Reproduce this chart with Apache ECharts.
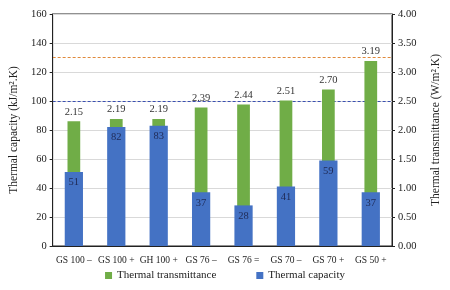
<!DOCTYPE html>
<html>
<head>
<meta charset="utf-8">
<script src="https://cdn.jsdelivr.net/npm/echarts@6/dist/echarts.min.js"></script>
<style>
  html, body { margin: 0; padding: 0; background: #fff; }
  #chart { width: 450px; height: 290px; }
</style>
</head>
<body>
<div id="chart"></div>
<script>
const categories = ['GS 100 \u2013', 'GS 100 +', 'GH 100 +', 'GS 76 \u2013', 'GS 76 =', 'GS 70 \u2013', 'GS 70 +', 'GS 50 +'];
const transmittance = [2.15, 2.19, 2.19, 2.39, 2.44, 2.51, 2.70, 3.19];
const capacity = [51, 82, 83, 37, 28, 41, 59, 37];
// dashed reference lines, in thermal capacity units (left axis)
const capacityLimit = 100;
const transmittanceLimit = 130;  // 3.25 W/m2.K on the right axis

const serif = "'Liberation Serif', 'DejaVu Serif', serif";
const green = '#70AD47';
const blue = '#4472C4';
const orangeDash = '#E08A3C';
const blueDash = '#3A4FB0';

const chart = echarts.init(document.getElementById('chart'), null, { renderer: 'canvas' });

const catAxis = {
  type: 'category',
  data: categories,
  axisLine: { show: true, lineStyle: { color: '#222', width: 1 } },
  axisTick: { show: false },
  axisLabel: { color: '#222', fontFamily: serif, fontSize: 9.5, margin: 9, interval: 0 }
};

// hidden axis whose only visible split line sits at the given value
const refAxis = (value, color) => ({
  type: 'value',
  min: 0, max: 160, interval: value,
  position: 'left',
  axisLine: { show: false },
  axisTick: { show: false },
  axisLabel: { show: false },
  splitLine: {
    show: true,
    lineStyle: { color: ['rgba(0,0,0,0)', color, 'rgba(0,0,0,0)'], type: [3, 2], width: 1 }
  }
});

chart.setOption({
  animation: false,
  backgroundColor: '#fff',
  textStyle: { fontFamily: serif },
  grid: {
    left: 48, right: 50, top: 14, bottom: 44,
    show: true, borderColor: '#222', borderWidth: 1
  },
  legend: {
    bottom: 4,
    left: 'center',
    itemWidth: 7,
    itemHeight: 7,
    itemGap: 40,
    icon: 'rect',
    textStyle: { fontFamily: serif, fontSize: 11, color: '#222' },
    data: ['Thermal transmittance', 'Thermal capacity']
  },
  xAxis: [
    catAxis,
    Object.assign({}, catAxis, { show: false })
  ],
  yAxis: [
    {
      type: 'value',
      min: 0, max: 160, interval: 20,
      name: 'Thermal capacity (kJ/m\u00b2.K)',
      nameLocation: 'middle',
      nameGap: 31,
      nameTextStyle: { fontFamily: serif, fontSize: 11.5, color: '#222' },
      axisLine: { show: true, lineStyle: { color: '#222' } },
      axisTick: { show: true, length: 3, lineStyle: { color: '#222' } },
      axisLabel: { color: '#222', fontFamily: serif, fontSize: 10.5, margin: 6 },
      splitLine: { lineStyle: { color: '#d9d9d9' } }
    },
    {
      type: 'value',
      min: 0, max: 4, interval: 0.5,
      name: 'Thermal transmittance (W/m\u00b2.K)',
      nameLocation: 'middle',
      nameGap: 38,
      nameRotate: 90,
      nameTextStyle: { fontFamily: serif, fontSize: 11.5, color: '#222' },
      axisLine: { show: true, lineStyle: { color: '#222' } },
      axisTick: { show: true, length: 3, lineStyle: { color: '#222' } },
      axisLabel: {
        color: '#222', fontFamily: serif, fontSize: 10.5, margin: 6,
        formatter: v => v.toFixed(2)
      },
      splitLine: { show: false }
    },
    refAxis(capacityLimit, blueDash),
    refAxis(transmittanceLimit, orangeDash)
  ],
  series: [
    {
      name: 'Thermal transmittance',
      type: 'bar',
      xAxisIndex: 1,
      yAxisIndex: 1,
      data: transmittance,
      barWidth: '30%',
      itemStyle: { color: green },
      label: {
        show: true, position: 'top', distance: 4,
        fontFamily: serif, fontSize: 10.5, color: '#333',
        formatter: p => p.value.toFixed(2)
      }
    },
    {
      name: 'Thermal capacity',
      type: 'bar',
      xAxisIndex: 0,
      yAxisIndex: 0,
      data: capacity,
      barWidth: '43%',
      itemStyle: { color: blue },
      label: {
        show: true, position: 'insideTop', distance: 5,
        fontFamily: serif, fontSize: 10.5, color: '#1f2a55'
      }
    }
  ]
});
</script>
</body>
</html>
